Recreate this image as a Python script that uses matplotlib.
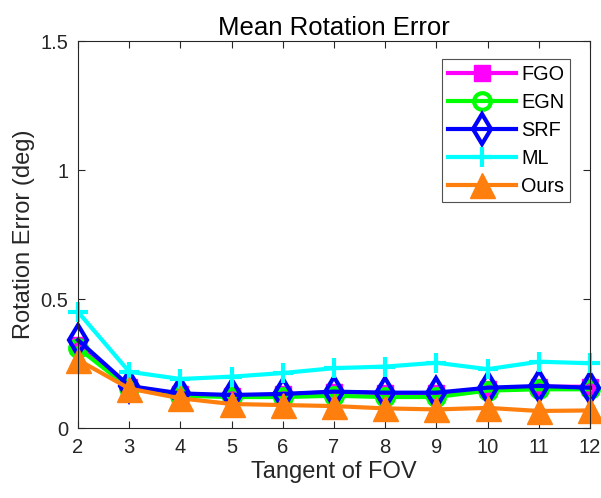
import matplotlib
matplotlib.use('Agg')
from matplotlib import pyplot as plt

plt.rcParams['font.family'] = ['Liberation Sans', 'DejaVu Sans']

fov = [2, 3, 4, 5, 6, 7, 8, 9, 10, 11, 12]
fgo = [0.32, 0.16, 0.13, 0.125, 0.13, 0.14, 0.135, 0.135, 0.15, 0.16, 0.16]
egn = [0.31, 0.155, 0.125, 0.12, 0.12, 0.125, 0.12, 0.12, 0.145, 0.15, 0.15]
srf = [0.341, 0.163, 0.134, 0.128, 0.132, 0.141, 0.137, 0.137, 0.156, 0.163, 0.156]
ml = [0.45, 0.218, 0.19, 0.199, 0.213, 0.232, 0.238, 0.253, 0.228, 0.257, 0.251]
ours = [0.264, 0.153, 0.115, 0.093, 0.089, 0.085, 0.076, 0.072, 0.078, 0.066, 0.068]

fig = plt.figure(figsize=(6.01, 4.98), dpi=100)
ax = fig.add_axes([78 / 601, 1 - 428 / 498, 512 / 601, 387 / 498])

lw = 3
kw = dict(lw=lw, clip_on=False)
ax.plot(fov, fgo, '-s', color='#ff00ff', ms=11, mfc='#ff00ff', label='FGO', **kw)
ax.plot(fov, egn, '-o', color='#00ff00', ms=12, mfc='none', mew=3, label='EGN', **kw)
ax.plot(fov, srf, '-d', color='#0000ff', ms=15, mfc='none', mew=3, label='SRF', **kw)
ax.plot(fov, ml, '-+', color='#00ffff', ms=15, mew=3, label='ML', **kw)
ax.plot(fov, ours, '-^', color='#ff7f0e', ms=18, mfc='#ff7f0e', label='Ours', **kw)

ax.set_xlim(2, 12)
ax.set_ylim(0, 1.5)
ax.set_xticks(fov)
ax.set_yticks([0, 0.5, 1, 1.5])
ax.set_yticklabels(['0', '0.5', '1', '1.5'])
ax.tick_params(direction='in', top=True, right=True, labelsize=14.5,
               color='#262626', labelcolor='#262626', length=5, pad=7)
for s in ax.spines.values():
    s.set_color('#262626')
    s.set_linewidth(0.8)

ax.set_title('Mean Rotation Error', fontsize=18.5, pad=4.5)
ax.set_xlabel('Tangent of FOV', fontsize=17, color='#262626', labelpad=3)
ax.set_ylabel('Rotation Error (deg)', fontsize=17, color='#262626', labelpad=4)

leg = ax.legend(loc='upper right', bbox_to_anchor=(0.961, 0.953), borderaxespad=0,
                fontsize=14.3, handlelength=3.4, fancybox=False, edgecolor='#262626',
                borderpad=0.3, labelspacing=0.45, handletextpad=0.25)
leg.get_frame().set_linewidth(0.8)

fig.savefig('out.png', dpi=100)
